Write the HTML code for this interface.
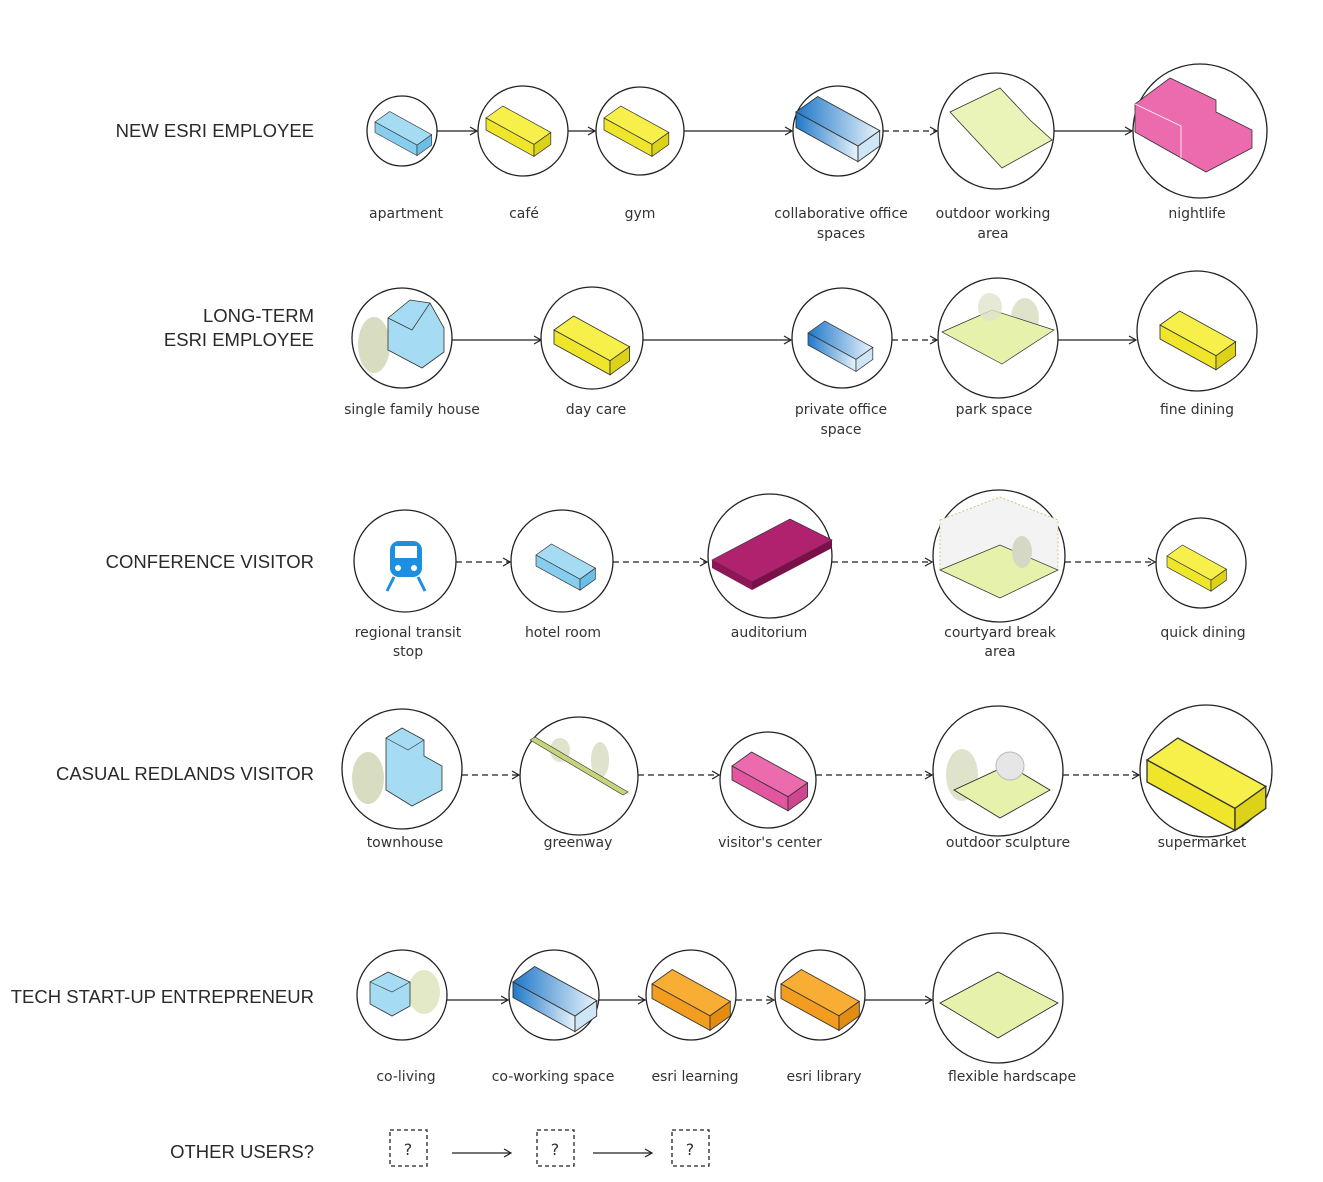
<!DOCTYPE html>
<html><head><meta charset="utf-8"><style>
body{margin:0;background:#fff;}
svg{display:block;}
.t{font-family:"Liberation Sans",sans-serif;font-size:18.5px;fill:#2a2a2a;text-anchor:end;}
.l{font-family:"DejaVu Sans","Liberation Sans",sans-serif;font-size:14px;fill:#333;text-anchor:middle;}
.c{fill:#fff;stroke:#222;stroke-width:1.3;}
.a{stroke:#222;stroke-width:1.3;fill:none;marker-end:url(#ar);}
.d{stroke-dasharray:6 4;}
</style></head><body>
<svg width="1323" height="1182" viewBox="0 0 1323 1182" xmlns="http://www.w3.org/2000/svg">
<defs>
<marker id="ar" markerWidth="10" markerHeight="10" refX="8" refY="5" orient="auto" markerUnits="userSpaceOnUse"><path d="M1,1 L8,5 L1,9" fill="none" stroke="#222" stroke-width="1.2"/></marker>
<linearGradient id="bg" x1="0" y1="0" x2="1" y2="0"><stop offset="0" stop-color="#1f78c8"/><stop offset="1" stop-color="#e8f3fb"/></linearGradient>
<g id="bb"><polygon points="0,0 14,-10 54,12 40,22" fill="#a6dcf3" stroke="#333" stroke-width="0.6"/><polygon points="0,0 40,22 40,32 0,10" fill="#86cdee" stroke="#333" stroke-width="0.6"/><polygon points="40,22 54,12 54,22 40,32" fill="#6bbfe6" stroke="#333" stroke-width="0.6"/></g>
<g id="by"><polygon points="0,0 14,-10 54,12 40,22" fill="#f7f04a" stroke="#333" stroke-width="0.6"/><polygon points="0,0 40,22 40,32 0,10" fill="#efe52a" stroke="#333" stroke-width="0.6"/><polygon points="40,22 54,12 54,22 40,32" fill="#dcd21a" stroke="#333" stroke-width="0.6"/></g>
<g id="bo"><polygon points="0,0 14,-10 54,12 40,22" fill="#f8ad35" stroke="#333" stroke-width="0.6"/><polygon points="0,0 40,22 40,32 0,10" fill="#f39d20" stroke="#333" stroke-width="0.6"/><polygon points="40,22 54,12 54,22 40,32" fill="#e38c12" stroke="#333" stroke-width="0.6"/></g>
<g id="bp"><polygon points="0,0 14,-10 54,12 40,22" fill="#ec6aae" stroke="#333" stroke-width="0.6"/><polygon points="0,0 40,22 40,32 0,10" fill="#e3559f" stroke="#333" stroke-width="0.6"/><polygon points="40,22 54,12 54,22 40,32" fill="#d04590" stroke="#333" stroke-width="0.6"/></g>
<g id="bg2"><polygon points="0,0 14,-10 54,12 40,22" fill="url(#bg)" stroke="#333" stroke-width="0.6"/><polygon points="0,0 40,22 40,32 0,10" fill="url(#bg)" stroke="#333" stroke-width="0.6"/><polygon points="40,22 54,12 54,22 40,32" fill="#cfe6f6" stroke="#333" stroke-width="0.6"/></g>
</defs>

<text class="t" x="314" y="137">NEW ESRI EMPLOYEE</text>
<text class="t" x="314" y="322">LONG-TERM</text>
<text class="t" x="314" y="346">ESRI EMPLOYEE</text>
<text class="t" x="314" y="568">CONFERENCE VISITOR</text>
<text class="t" x="314" y="780">CASUAL REDLANDS VISITOR</text>
<text class="t" x="314" y="1003">TECH START-UP ENTREPRENEUR</text>
<text class="t" x="314" y="1158">OTHER USERS?</text>

<line class="a" x1="437" y1="131" x2="477" y2="131"/>
<line class="a" x1="568" y1="131" x2="595" y2="131"/>
<line class="a" x1="684" y1="131" x2="792" y2="131"/>
<line class="a d" x1="883" y1="131" x2="937" y2="131"/>
<line class="a" x1="1054" y1="131" x2="1132" y2="131"/>
<circle class="c" cx="402" cy="131" r="35"/>
<circle class="c" cx="523" cy="131" r="45"/>
<circle class="c" cx="640" cy="131" r="44"/>
<circle class="c" cx="838" cy="131" r="45"/>
<circle class="c" cx="996" cy="131" r="58"/>
<circle class="c" cx="1200" cy="131" r="67"/>
<use href="#bb" transform="translate(375,122) scale(1.05)"/>
<use href="#by" transform="translate(486,118) scale(1.2)"/>
<use href="#by" transform="translate(604,118) scale(1.2)"/>
<use href="#bg2" transform="translate(796,112) scale(1.55)"/>
<polygon points="950,112 1000,88 1030,120 1052,140 1002,168" fill="#eaf3b8" stroke="#333" stroke-width="0.8"/>
<polygon points="1135,104 1170,78 1216,100 1216,112 1252,130 1252,148 1206,172 1135,132" fill="#ec6aae" stroke="#333" stroke-width="0.8"/>
<polyline points="1135,104 1181,126 1181,158 M1181,126 1216,112 M1181,140 1206,152 1252,130" fill="none" stroke="#fff" stroke-width="0.8"/>
<text class="l" x="406" y="218">apartment</text>
<text class="l" x="524" y="218">café</text>
<text class="l" x="640" y="218">gym</text>
<text class="l" x="841" y="218">collaborative office</text>
<text class="l" x="841" y="238">spaces</text>
<text class="l" x="993" y="218">outdoor working</text>
<text class="l" x="993" y="238">area</text>
<text class="l" x="1197" y="218">nightlife</text>

<line class="a" x1="452" y1="340" x2="541" y2="340"/>
<line class="a" x1="642" y1="340" x2="791" y2="340"/>
<line class="a d" x1="892" y1="340" x2="937" y2="340"/>
<line class="a" x1="1058" y1="340" x2="1136" y2="340"/>
<circle class="c" cx="402" cy="338" r="50"/>
<circle class="c" cx="592" cy="338" r="51"/>
<circle class="c" cx="842" cy="338" r="50"/>
<circle class="c" cx="998" cy="338" r="60"/>
<circle class="c" cx="1197" cy="331" r="60"/>
<ellipse cx="374" cy="345" rx="16" ry="28" fill="#d8dcc0"/>
<polygon points="388,318 410,300 430,303 444,328 444,352 422,368 388,350" fill="#a6dcf3" stroke="#333" stroke-width="0.8"/>
<polyline points="388,318 412,330 430,303 M412,330 412,368" fill="none" stroke="#333" stroke-width="0.7"/>
<use href="#by" transform="translate(554,330) scale(1.4)"/>
<use href="#bg2" transform="translate(808,333) scale(1.2)"/>
<ellipse cx="1025" cy="318" rx="14" ry="20" fill="#dfe3cc"/>
<polygon points="942,332 992,310 1054,330 1002,364" fill="#e6f1ac" stroke="#333" stroke-width="0.7"/>
<ellipse cx="990" cy="307" rx="12" ry="14" fill="#dfe3cc" opacity="0.8"/>
<use href="#by" transform="translate(1160,325) scale(1.4)"/>
<text class="l" x="412" y="414">single family house</text>
<text class="l" x="596" y="414">day care</text>
<text class="l" x="841" y="414">private office</text>
<text class="l" x="841" y="434">space</text>
<text class="l" x="994" y="414">park space</text>
<text class="l" x="1197" y="414">fine dining</text>

<line class="a d" x1="456" y1="562" x2="510" y2="562"/>
<line class="a d" x1="613" y1="562" x2="707" y2="562"/>
<line class="a d" x1="832" y1="562" x2="932" y2="562"/>
<line class="a d" x1="1065" y1="562" x2="1155" y2="562"/>
<circle class="c" cx="405" cy="561" r="51"/>
<circle class="c" cx="562" cy="561" r="51"/>
<circle class="c" cx="770" cy="556" r="62"/>
<circle class="c" cx="999" cy="556" r="66"/>
<circle class="c" cx="1201" cy="563" r="45"/>
<rect x="390" y="541" width="32" height="36" rx="9" fill="#1d8fe0"/>
<rect x="395" y="546" width="22" height="12" fill="#fff"/>
<circle cx="398" cy="568" r="3" fill="#fff"/><circle cx="414" cy="568" r="3" fill="#fff"/>
<path d="M394,577 L387,591 M418,577 L425,591" stroke="#1d8fe0" stroke-width="3"/>
<use href="#bb" transform="translate(536,555) scale(1.1)"/>
<polygon points="712,560 790,519 832,540 752,582" fill="#b0226d" stroke="#333" stroke-width="0.7"/>
<polygon points="712,560 752,582 752,590 712,568" fill="#8e1556"/>
<polygon points="752,582 832,540 832,548 752,590" fill="#7a1049"/>
<polygon points="940,520 1000,497 1058,520 1058,570 1000,598 940,570" fill="#f3f3f3" stroke="#c8b85a" stroke-dasharray="2 2" stroke-width="0.8"/>
<polygon points="940,570 1000,545 1058,570 1000,598" fill="#e6f1ac" stroke="#333" stroke-width="0.7"/>
<ellipse cx="1022" cy="552" rx="10" ry="16" fill="#d4d8c4"/>
<use href="#by" transform="translate(1167,556) scale(1.1)"/>
<text class="l" x="408" y="637">regional transit</text>
<text class="l" x="408" y="656">stop</text>
<text class="l" x="563" y="637">hotel room</text>
<text class="l" x="769" y="637">auditorium</text>
<text class="l" x="1000" y="637">courtyard break</text>
<text class="l" x="1000" y="656">area</text>
<text class="l" x="1203" y="637">quick dining</text>

<line class="a d" x1="462" y1="775" x2="519" y2="775"/>
<line class="a d" x1="638" y1="775" x2="719" y2="775"/>
<line class="a d" x1="816" y1="775" x2="932" y2="775"/>
<line class="a d" x1="1063" y1="775" x2="1139" y2="775"/>
<circle class="c" cx="402" cy="769" r="60"/>
<circle class="c" cx="579" cy="776" r="59"/>
<circle class="c" cx="768" cy="780" r="48"/>
<circle class="c" cx="998" cy="771" r="65"/>
<circle class="c" cx="1206" cy="771" r="66"/>
<ellipse cx="368" cy="778" rx="16" ry="26" fill="#d8dcc0"/>
<polygon points="386,738 402,728 424,740 424,756 442,766 442,790 412,806 386,790" fill="#a6dcf3" stroke="#333" stroke-width="0.8"/>
<polyline points="386,738 408,750 424,740 M408,750 408,806 M386,764 408,776 442,766" fill="none" stroke="#333" stroke-width="0.6"/>
<ellipse cx="560" cy="750" rx="10" ry="12" fill="#dfe3cc"/>
<ellipse cx="600" cy="760" rx="9" ry="18" fill="#dfe3cc"/>
<polygon points="530,740 535,737 628,792 623,795" fill="#c9d47a" stroke="#333" stroke-width="0.6"/>
<use href="#bp" transform="translate(732,766) scale(1.4)"/>
<ellipse cx="962" cy="775" rx="16" ry="26" fill="#dfe3cc"/>
<polygon points="954,790 1008,765 1050,790 1000,818" fill="#e6f1ac" stroke="#222" stroke-width="0.8"/>
<circle cx="1010" cy="766" r="14" fill="#e6e6e6" stroke="#bbb"/>
<use href="#by" transform="translate(1147,760) scale(2.2)"/>
<text class="l" x="405" y="847">townhouse</text>
<text class="l" x="578" y="847">greenway</text>
<text class="l" x="770" y="847">visitor's center</text>
<text class="l" x="1008" y="847">outdoor sculpture</text>
<text class="l" x="1202" y="847">supermarket</text>

<line class="a" x1="447" y1="1000" x2="508" y2="1000"/>
<line class="a" x1="599" y1="1000" x2="645" y2="1000"/>
<line class="a d" x1="736" y1="1000" x2="774" y2="1000"/>
<line class="a" x1="865" y1="1000" x2="932" y2="1000"/>
<circle class="c" cx="402" cy="995" r="45"/>
<circle class="c" cx="554" cy="995" r="45"/>
<circle class="c" cx="691" cy="995" r="45"/>
<circle class="c" cx="820" cy="995" r="45"/>
<circle class="c" cx="998" cy="998" r="65"/>
<ellipse cx="424" cy="992" rx="16" ry="22" fill="#e3e8c6"/>
<polygon points="370,982 388,972 410,982 410,1006 392,1016 370,1004" fill="#a6dcf3" stroke="#333" stroke-width="0.8"/>
<polyline points="370,982 392,992 410,982 M392,992 392,1016" fill="none" stroke="#333" stroke-width="0.6"/>
<use href="#bg2" transform="translate(513,982) scale(1.55)"/>
<use href="#bo" transform="translate(652,984) scale(1.45)"/>
<use href="#bo" transform="translate(781,984) scale(1.45)"/>
<polygon points="940,1003 998,972 1058,1003 998,1038" fill="#e6f1ac" stroke="#222" stroke-width="0.8"/>
<text class="l" x="406" y="1081">co-living</text>
<text class="l" x="553" y="1081">co-working space</text>
<text class="l" x="695" y="1081">esri learning</text>
<text class="l" x="824" y="1081">esri library</text>
<text class="l" x="1012" y="1081">flexible hardscape</text>

<g fill="none" stroke="#222" stroke-width="1.3" stroke-dasharray="4 3">
<rect x="390" y="1130" width="37" height="36"/>
<rect x="537" y="1130" width="37" height="36"/>
<rect x="672" y="1130" width="37" height="36"/>
</g>
<line class="a" x1="452" y1="1153" x2="511" y2="1153"/>
<line class="a" x1="593" y1="1153" x2="652" y2="1153"/>
<text class="l" x="408" y="1155" style="font-size:16px">?</text>
<text class="l" x="555" y="1155" style="font-size:16px">?</text>
<text class="l" x="690" y="1155" style="font-size:16px">?</text>
</svg>
</body></html>
